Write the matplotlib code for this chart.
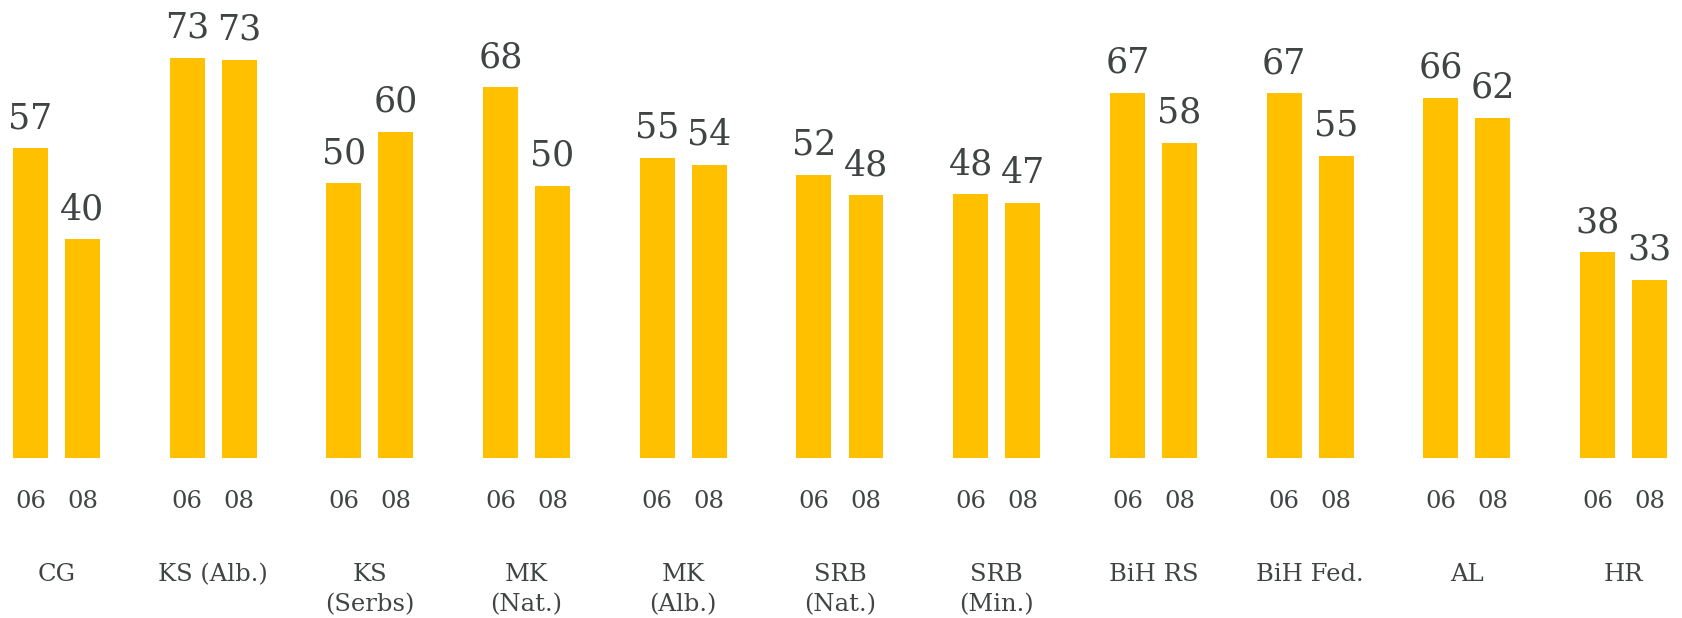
import numpy as np
import matplotlib
matplotlib.use("Agg")
import matplotlib.pyplot as plt

# =========================
# Data
# =========================
GROUPS = ["CG", "KS (Alb.)", "KS\n(Serbs)", "MK\n(Nat.)", "MK\n(Alb.)",
          "SRB\n(Nat.)", "SRB\n(Min.)", "BiH RS", "BiH Fed.", "AL", "HR"]
YEARS = ["06", "08"]
VALUES_06 = [56.6, 73.2, 50.2, 67.8, 54.9, 51.8, 48.2, 66.8, 66.7, 65.9, 37.6]
VALUES_08 = [40.0, 72.8, 59.6, 49.8, 53.6, 48.0, 46.7, 57.6, 55.3, 62.2, 32.6]

BAR_COLOR = "#FFC000"
TEXT_COLOR = "#404444"
FONT = "DejaVu Serif"

# =========================
# Plot
# =========================
W, H = 1682, 618
fig = plt.figure(figsize=(W / 100, H / 100), dpi=100)
base_px = 458          # baseline position (pixels from top)
ax = fig.add_axes([0, (H - base_px) / H, 1, base_px / H])

x = np.arange(len(GROUPS))
off = 0.166
width = 0.223
series = [VALUES_06, VALUES_08]
for k, vals in enumerate(series):
    pos = x + (-off if k == 0 else off)
    ax.bar(pos, vals, width=width, color=BAR_COLOR, edgecolor="none")
    for p, v in zip(pos, vals):
        ax.annotate(f"{v:.0f}", xy=(p, v), xytext=(0, 20), textcoords="offset pixels",
                    ha="center", va="baseline", fontsize=25, color=TEXT_COLOR,
                    family=FONT, annotation_clip=False)
        ax.annotate(YEARS[k], xy=(p, 0), xytext=(0, -50), textcoords="offset pixels",
                    ha="center", va="baseline", fontsize=17.5, color=TEXT_COLOR,
                    family=FONT, annotation_clip=False)

# group names, one line at a time so the first lines share a baseline
for xi, name in zip(x, GROUPS):
    for j, line in enumerate(name.split("\n")):
        ax.annotate(line, xy=(xi, 0), xytext=(0, -123 - 30 * j), textcoords="offset pixels",
                    ha="center", va="baseline", fontsize=17.5, color=TEXT_COLOR,
                    family=FONT, annotation_clip=False)

ax.set_xlim(-0.36, 10.373)
ax.set_ylim(0, base_px / 5.47)
ax.axis("off")

fig.savefig("out.png", dpi=100)
